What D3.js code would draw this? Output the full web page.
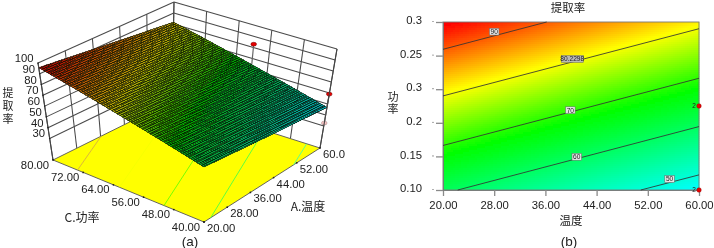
<!DOCTYPE html>
<html><head><meta charset="utf-8">
<script src="https://cdn.jsdelivr.net/npm/d3@7/dist/d3.min.js"></script>
<style>
html,body{margin:0;padding:0;background:#fff}
svg{display:block}
text{font-family:"Liberation Sans",Arial,sans-serif;fill:#222}
.cjk{font-family:"Noto Sans CJK SC","Liberation Sans",sans-serif}
</style></head><body>
<script>
// ---- data ----
const tempTicks = [20, 28, 36, 44, 52, 60];
const powerTicks = [40, 48, 56, 64, 72, 80];
const zTicks = [30, 40, 50, 60, 70, 80, 90, 100];
const tempLabels3d = ["20.00", "28.00", "36.00", "44.00", "52.00", "60.0"];
const powerLabels3d = ["40.00", "48.00", "56.00", "64.00", "72.00", "80.00"];
const tempLabels2d = ["20.00", "28.00", "36.00", "44.00", "52.00", "60.00"];
const powerLabels2d = ["0.10", "0.15", "0.2", "0.3", "0.25", "0.3"];
// yield: rows = power 40..80, columns = temp 20..60
const yieldGrid = [
  [60.8, 58.0, 55.2, 52.4, 49.7, 46.9],
  [67.8, 65.0, 62.2, 59.4, 56.7, 53.9],
  [74.8, 72.0, 69.2, 66.4, 63.7, 60.9],
  [81.8, 79.0, 76.2, 73.4, 70.7, 67.9],
  [88.8, 86.0, 83.2, 80.4, 77.7, 74.9],
  [95.7, 92.9, 90.1, 87.3, 84.5, 81.7]
];
// contour lines as [temp, power] end points
const contourLevels = [90, 80.2298, 70, 60, 50];
const contourLines = [
  [[20, 73.5], [36.2, 80]],
  [[20, 62.4], [60, 78.4]],
  [[20, 50.6], [60, 66.6]],
  [[22.3, 40], [60, 55.1]],
  [[50.9, 40], [60, 43.6]]
];
const contourLabelSpots = [[28, 77.7], [40.2, 71.2], [39.9, 59], [40.9, 47.9], [55.4, 42.6]];
const contourLabelTexts = ["90", "80.2298", "70", "60", "50"];
const pointsAbove = [[60, 60, 83], [60, 40, 59]];
const pointsBelow = [[60, 40, 32.7]];
const pointLabelSpots = [[60, 60], [60, 40]];

// ---- shared scales ----
const W = 714, H = 248;
const svg = d3.select("body").append("svg").attr("width", W).attr("height", H).attr("viewBox", `0 0 ${W} ${H}`);
const defs = svg.append("defs");
defs.append("filter").attr("id", "soft").attr("x", "-5%").attr("y", "-5%").attr("width", "110%").attr("height", "110%")
  .append("feGaussianBlur").attr("stdDeviation", 0.35);
defs.append("filter").attr("id", "softer").attr("x", "-5%").attr("y", "-5%").attr("width", "110%").attr("height", "110%")
  .append("feGaussianBlur").attr("stdDeviation", 0.4);
const root = svg.append("g").attr("filter", "url(#soft)");

const colour = d3.scaleLinear().domain([46.9, 68, 81, 95])
  .range(["#00ffff", "#00ff00", "#ffff00", "#ff0000"]).clamp(true);
const gridT = d3.scaleLinear().domain([20, 60]).range([0, tempTicks.length - 1]);
const gridP = d3.scaleLinear().domain([40, 80]).range([0, powerTicks.length - 1]);
function yieldAt(t, p) {
  const x = gridT(t), y = gridP(p);
  const i = Math.min(Math.floor(x), tempTicks.length - 2), j = Math.min(Math.floor(y), powerTicks.length - 2);
  const fx = x - i, fy = y - j;
  const a = d3.interpolateNumber(yieldGrid[j][i], yieldGrid[j][i + 1])(fx);
  const b = d3.interpolateNumber(yieldGrid[j + 1][i], yieldGrid[j + 1][i + 1])(fx);
  return d3.interpolateNumber(a, b)(fy);
}

// ---- panel (a) ----
const gA = root.append("g");
// box corners: [x,y] at floor and at ceiling
const cornerLeft = {b: [53, 160], t: [38, 63]};     // temp 20, power 80
const cornerBack = {b: [172, 101], t: [174, 2]};    // temp 60, power 80
const cornerRight = {b: [320, 148], t: [337, 49]};  // temp 60, power 40
const cornerFront = {b: [204, 222], t: [204, 124.5]}; // temp 20, power 40
const tS = d3.scaleLinear().domain([20, 60]).range([0, 1]);
const pS = d3.scaleLinear().domain([40, 80]).range([0, 1]);
const zS = d3.scaleLinear().domain([10, 100]).range([0, 1]);
const mix = (a, b, f) => a + (b - a) * f;
function proj(t, p, z) {
  const u = tS(t), v = pS(p), w = zS(z);
  return [0, 1].map(k => {
    const lvl = c => mix(c.b[k], c.t[k], w);
    const near = mix(lvl(cornerFront), lvl(cornerRight), u);
    const far = mix(lvl(cornerLeft), lvl(cornerBack), u);
    return mix(near, far, v);
  });
}
const line = d3.line();
const wallStroke = "#4a4a4a";
function seg(g, a, b, col, w) {
  g.append("path").attr("d", line([a, b])).attr("stroke", col || wallStroke).attr("stroke-width", w || 1.05).attr("fill", "none");
}
// walls
const walls = gA.append("g");
zTicks.forEach(z => {
  seg(walls, proj(20, 80, z), proj(60, 80, z));
  seg(walls, proj(60, 80, z), proj(60, 40, z));
});
tempTicks.forEach(t => seg(walls, proj(t, 80, 10), proj(t, 80, 100)));
powerTicks.forEach(p => seg(walls, proj(60, p, 10), proj(60, p, 100)));
// floor
gA.append("path").attr("d", line([proj(20, 80, 10), proj(60, 80, 10), proj(60, 40, 10), proj(20, 40, 10)]) + "Z")
  .attr("fill", "#ffff00").attr("stroke", "#555").attr("stroke-width", 0.9);
// floor contours
contourLines.forEach((c, i) => {
  gA.append("path").attr("d", line(c.map(d => proj(d[0], d[1], 10))))
    .attr("fill", "none").attr("stroke", i === 0 ? "#d8b040" : d3.interpolateRgb(colour(contourLevels[i]), "#ffff00")(0.3))
    .attr("stroke-width", 0.9);
});
// design points behind the surface
const ptG = gA.append("g");
pointsAbove.forEach(d => {
  seg(ptG, proj(d[0], d[1], yieldAt(d[0], d[1])), proj(d[0], d[1], d[2]), "#666", 1.2);
});
pointsBelow.forEach(d => {
  seg(ptG, proj(d[0], d[1], yieldAt(d[0], d[1])), proj(d[0], d[1], d[2]), "#999", 1);
});
// surface mesh
const nMesh = 60;
const surf = gA.append("g").attr("filter", "url(#softer)");
const meshT = d3.range(nMesh + 1).map(i => mix(20, 60, i / nMesh));
const meshP = d3.range(nMesh + 1).map(i => mix(40, 80, i / nMesh));
const shade = z => {
  const c = d3.color(colour(z));
  return d3.rgb(c.r * 0.7, c.g * 0.64, c.b * 0.7).formatHex();
};
for (let i = 0; i < nMesh; i++) for (let j = 0; j < nMesh; j++) {
  const t0 = meshT[i], t1 = meshT[i + 1], p0 = meshP[j], p1 = meshP[j + 1];
  const z = yieldAt((t0 + t1) / 2, (p0 + p1) / 2);
  surf.append("path")
    .attr("d", line([proj(t0, p0, yieldAt(t0, p0)), proj(t1, p0, yieldAt(t1, p0)), proj(t1, p1, yieldAt(t1, p1)), proj(t0, p1, yieldAt(t0, p1))]) + "Z")
    .attr("fill", shade(z)).attr("stroke", shade(z)).attr("stroke-width", 0.4);
}
// aliased mesh lines, which beat against the pixel grid as in the reference
const meshInk = surf.append("g").attr("shape-rendering", "crispEdges").attr("stroke", "#061006").attr("stroke-width", 1).attr("stroke-opacity", 0.58).attr("fill", "none");
meshT.forEach(t => meshInk.append("path").attr("d", line(meshP.map(p => proj(t, p, yieldAt(t, p))))));
meshP.forEach(p => meshInk.append("path").attr("d", line(meshT.map(t => proj(t, p, yieldAt(t, p))))));
// markers
function marker(g, d, fill, stroke) {
  const c = proj(d[0], d[1], d[2]);
  g.append("ellipse").attr("cx", c[0]).attr("cy", c[1]).attr("rx", 2.8).attr("ry", 1.9)
    .attr("fill", fill).attr("stroke", stroke).attr("stroke-width", 0.6);
}
pointsAbove.forEach(d => marker(gA, d, "#e80000", "#7a0000"));
pointsBelow.forEach(d => marker(gA, d, "#f7c4c4", "#aa8a8a"));
// axes (a)
seg(gA, proj(20, 80, 10), proj(20, 80, 100), "#444", 1.1);
seg(gA, proj(60, 40, 10), proj(60, 40, 100), "#444", 1.1);
powerTicks.forEach((p, i) => {
  const c = proj(20, p, 10);
  gA.append("circle").attr("cx", c[0]).attr("cy", c[1]).attr("r", 0.9).attr("fill", "#222");
  gA.append("text").attr("x", c[0] - 18).attr("y", c[1] + 8.5).attr("text-anchor", "middle").attr("font-size", 11.3).text(powerLabels3d[i]);
});
tempTicks.forEach((t, i) => {
  const c = proj(t, 40, 10);
  gA.append("circle").attr("cx", c[0]).attr("cy", c[1]).attr("r", 0.9).attr("fill", "#222");
  gA.append("text").attr("x", c[0] + 3).attr("y", c[1] + 10).attr("text-anchor", "start").attr("font-size", 11.3).text(tempLabels3d[i]);
});
zTicks.forEach(z => {
  const c = proj(20, 80, z);
  gA.append("circle").attr("cx", c[0]).attr("cy", c[1]).attr("r", 0.8).attr("fill", "#222");
  gA.append("text").attr("x", c[0] - 4.5).attr("y", c[1] - 1).attr("text-anchor", "end").attr("font-size", 11.3).text(z);
});
// vertical label: a single text element set in vertical writing mode
const vert = (g, x, top, gap, label, size) => g.append("text").attr("class", "cjk")
  .attr("x", x).attr("y", top).attr("font-size", size)
  .style("writing-mode", "vertical-rl").style("text-orientation", "upright").style("letter-spacing", gap + "px")
  .text(label);
vert(gA, 8, 87.5, 2, "提取率", 11);
gA.append("text").attr("class", "cjk").attr("x", 82).attr("y", 222).attr("text-anchor", "middle").attr("font-size", 12).text("C.功率");
gA.append("text").attr("class", "cjk").attr("x", 308).attr("y", 211).attr("text-anchor", "middle").attr("font-size", 12).text("A.温度");
gA.append("text").attr("x", 190).attr("y", 245.5).attr("text-anchor", "middle").attr("font-size", 13.5).text("(a)");

// ---- panel (b) ----
const gB = root.append("g");
const x2 = d3.scaleLinear().domain([20, 60]).range([443, 699]);
const y2 = d3.scaleLinear().domain([40, 80]).range([190, 22]);
// shaded field
const cell = 2;
const fieldX = d3.range(443, 699, cell), fieldY = d3.range(22, 190, cell);
fieldY.forEach(py => fieldX.forEach(px => {
  const t = x2.invert(px + cell / 2), p = y2.invert(py + cell / 2);
  gB.append("rect").attr("x", px).attr("y", py).attr("width", cell + 0.3).attr("height", cell + 0.3)
    .attr("fill", colour(yieldAt(t, p)));
}));
gB.append("rect").attr("x", 443).attr("y", 22).attr("width", 256).attr("height", 168)
  .attr("fill", "none").attr("stroke", "#777").attr("stroke-width", 0.9);
const xAxis = d3.axisBottom(x2).tickValues(tempTicks).tickSize(6).tickFormat((d, i) => tempLabels2d[i]);
const yAxis = d3.axisLeft(y2).tickValues(powerTicks).tickSize(7).tickFormat((d, i) => powerLabels2d[i]);
const xg = gB.append("g").attr("transform", "translate(0,190)").call(xAxis);
const yg = gB.append("g").attr("transform", "translate(443,0)").call(yAxis);
[xg, yg].forEach(g => {
  g.select(".domain").attr("stroke", "#777").attr("stroke-width", 0.9);
  g.selectAll("line").attr("stroke", "#8a8a8a").attr("stroke-width", 1.3);
  g.selectAll("text").attr("font-size", 11.3).attr("font-family", "Liberation Sans").attr("fill", "#222");
});
xg.selectAll("text").attr("y", 11);
yg.selectAll("text").attr("x", -21).attr("dy", "0.15em");
// small mark left of each power tick
powerTicks.forEach(p => gB.append("circle").attr("cx", 433).attr("cy", y2(p) - 0.5).attr("r", 0.6).attr("fill", "#555"));
// contours
const lineB = d3.line().x(d => x2(d[0])).y(d => y2(d[1]));
contourLines.forEach(c => gB.append("path").attr("d", lineB(c)).attr("fill", "none").attr("stroke", "#333").attr("stroke-width", 0.85));
contourLabelSpots.forEach((d, i) => {
  const txt = contourLabelTexts[i];
  const w = txt.length > 2 ? 22 : 9.5;
  const gl = gB.append("g").attr("transform", `translate(${x2(d[0])},${y2(d[1])})`);
  gl.append("rect").attr("x", -w / 2).attr("y", -3.4).attr("width", w).attr("height", 6.8)
    .attr("fill", txt.length > 2 ? "#b8b8b8" : "#e4e4e4").attr("stroke", "#666").attr("stroke-width", 0.5);
  gl.append("text").attr("y", 2.4).attr("text-anchor", "middle").attr("font-size", 6.6).attr("fill", "#333").text(txt);
});
// design points
pointLabelSpots.forEach(d => {
  gB.append("circle").attr("cx", x2(d[0])).attr("cy", y2(d[1])).attr("r", 2.3).attr("fill", "#e80000").attr("stroke", "#800").attr("stroke-width", 0.4);
  gB.append("text").attr("x", x2(d[0]) - 3.2).attr("y", y2(d[1]) + 2.3).attr("text-anchor", "end").attr("font-size", 6.5).attr("fill", "#111").text("2");
});
gB.append("text").attr("class", "cjk").attr("x", 568).attr("y", 11.5).attr("text-anchor", "middle").attr("font-size", 11.5).text("提取率");
vert(gB, 393, 91.5, 1, "功率", 11);
gB.append("text").attr("class", "cjk").attr("x", 571).attr("y", 225).attr("text-anchor", "middle").attr("font-size", 11.5).text("温度");
gB.append("text").attr("x", 569).attr("y", 245.5).attr("text-anchor", "middle").attr("font-size", 13.5).text("(b)");
</script>
</body></html>
